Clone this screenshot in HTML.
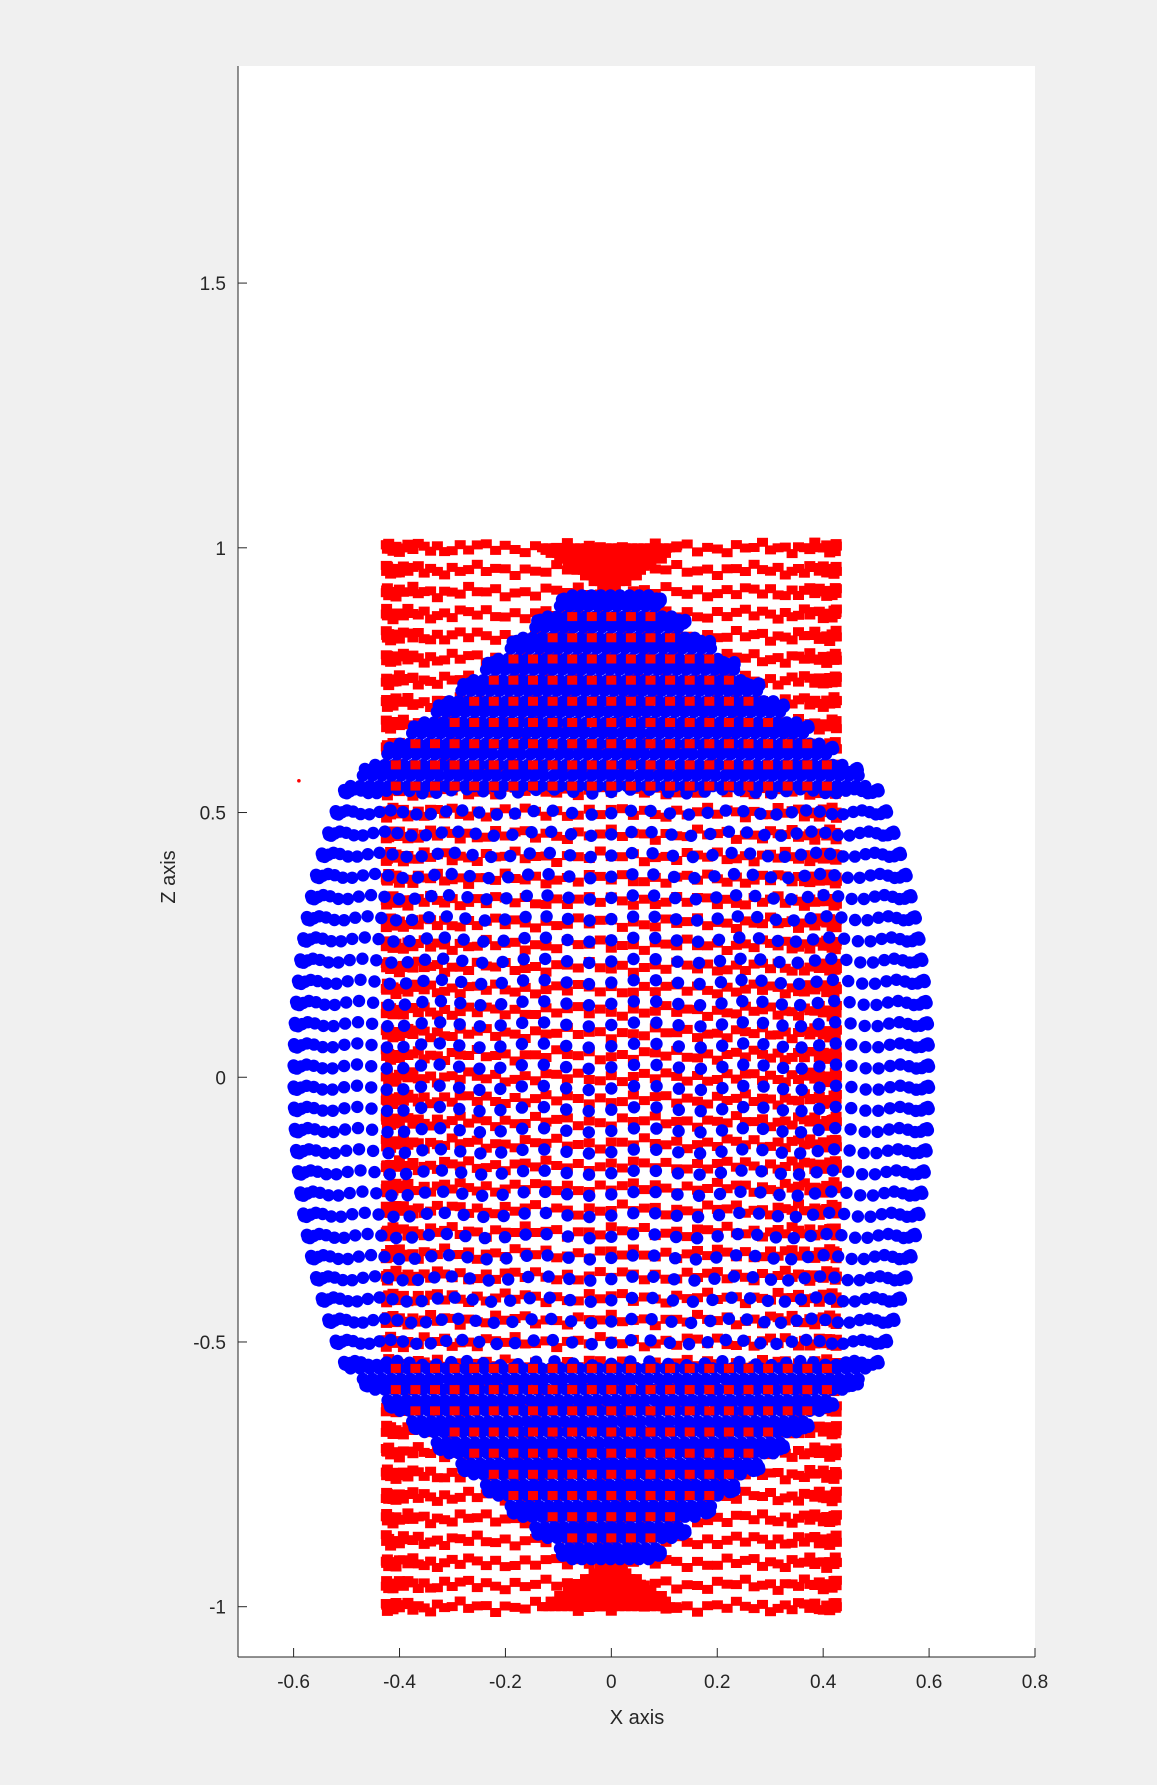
<!DOCTYPE html>
<html><head><meta charset="utf-8"><style>
html,body{margin:0;padding:0;background:#f0f0f0;}
svg{display:block;font-family:"Liberation Sans",sans-serif;}
</style></head><body>
<svg id="chart" width="1157" height="1785" viewBox="0 0 1157 1785">
<rect x="0" y="0" width="1157" height="1785" fill="#f0f0f0"/>
<rect x="238" y="66" width="797" height="1591" fill="#ffffff"/>
<g id="marks"></g>
<g id="axes"></g>
<text x="637" y="1724" font-size="20" text-anchor="middle" fill="#262626">X axis</text>
<text transform="translate(175,877) rotate(-90)" font-size="20" text-anchor="middle" fill="#262626">Z axis</text>
</svg>
<script>
const xTicks=[-0.6,-0.4,-0.2,0,0.2,0.4,0.6,0.8];
const xTickLabels=["-0.6","-0.4","-0.2","0","0.2","0.4","0.6","0.8"];
const zTicks=[-1,-0.5,0,0.5,1,1.5];
const zTickLabels=["-1","-0.5","0","0.5","1","1.5"];
const cylRadius=[0.425];
const cylHalfHeight=[1.0];
const cylRows=[49];
const cylCols=[64];
const capHalfWidth=[0.13];
const capDepth=[0.085];
const ellRadiusX=[0.6];
const ellRadiusZ=[0.93];
const ellExponent=[2.15];
const tipStartZ=[0.55];
const tipEndZ=[0.92];
const tipEndRadius=[0.07];
const ellRowStep=[0.04];
const ellCols=[44];
const gridStepX=[0.037];
const gridStepZ=[0.04];
const gridZStart=[0.55];
const strayPoint=[-0.59,0.56];

const xMin=-0.705,xMax=0.8,zMin=-1.095,zMax=1.91;
const L=238,R=1035,T=66,B=1657;
function sx(v){return L+(v-xMin)/(xMax-xMin)*(R-L);}
function sz(v){return B-(v-zMin)/(zMax-zMin)*(B-T);}
const NS="http://www.w3.org/2000/svg";
const marks=document.getElementById('marks');
const axes=document.getElementById('axes');
function sq(x,z,w,h){
  const s=document.createElementNS(NS,'rect');
  s.setAttribute('x',(sx(x)-w/2).toFixed(1));s.setAttribute('y',(sz(z)-h/2).toFixed(1));
  s.setAttribute('width',w);s.setAttribute('height',h);
  s.setAttribute('fill','#ff0000');
  
  
  marks.appendChild(s);
}
function circ(x,z){
  const c=document.createElementNS(NS,'circle');
  c.setAttribute('cx',sx(x).toFixed(1));c.setAttribute('cy',sz(z).toFixed(1));c.setAttribute('r',6.2);
  c.setAttribute('fill','#0000ff');
  
  
  marks.appendChild(c);
}
const r=cylRadius[0],h=cylHalfHeight[0];
for(let i=0;i<cylRows[0];i++){
  const z=-h+2*h*i/(cylRows[0]-1);
  for(let j=0;j<=cylCols[0];j++){
    const th=Math.PI*j/cylCols[0];
    const x=r*Math.cos(th);
    const jit=0.007*Math.sin(j*2.3+i*1.7)+0.004*Math.sin(j*0.7+i*0.3);
    sq(x,z+jit,11,9);
  }
}
[1,-1].forEach(sgn=>{
  for(let k=0;k<=8;k++){
    const f=k/8;
    const hw=capHalfWidth[0]*(1-f);
    const z=sgn*(h-capDepth[0]*f);
    for(let x=-hw;x<=hw+1e-9;x+=0.012) sq(x,z,11,9);
  }
});
const p=ellExponent[0];
function ell(z){return ellRadiusX[0]*Math.pow(Math.max(0,1-Math.pow(Math.abs(z)/ellRadiusZ[0],p)),1/p);}
function rad(z){
  const a=Math.abs(z);
  if(a<=tipStartZ[0]) return ell(a);
  const r0=ell(tipStartZ[0]);
  return r0-(r0-tipEndRadius[0])*(a-tipStartZ[0])/(tipEndZ[0]-tipStartZ[0]);
}
for(let z=-0.9;z<=0.9001;z+=ellRowStep[0]){
  const rz=rad(z);
  for(let j=0;j<=ellCols[0];j++){
    const th=Math.PI*j/ellCols[0];
    circ(rz*Math.cos(th),z+0.004*Math.sin(j*1.3));
  }
}
for(let z=0.55;z<=0.915;z+=ellRowStep[0]/2){
  const rz=rad(z)-0.008;
  [1,-1].forEach(sgn=>{
    for(let x=-rz;x<=rz+1e-9;x+=0.018) circ(x,sgn*z);
  });
}
for(let z=gridZStart[0];z<=0.9;z+=gridStepZ[0]){
  [1,-1].forEach(sgn=>{
    const zz=sgn*z;
    const rz=rad(z);
    for(let k=-12;k<=12;k++){
      const x=k*gridStepX[0];
      if(Math.abs(x)<rz-0.03 && Math.abs(x)<r) sq(x,zz,10,9);
    }
  });
}
const sp=document.createElementNS(NS,'circle');
sp.setAttribute('cx',sx(strayPoint[0]));sp.setAttribute('cy',sz(strayPoint[1]));sp.setAttribute('r',1.8);sp.setAttribute('fill','#ff0000');


marks.appendChild(sp);
function line(x1,y1,x2,y2,name){
  const l=document.createElementNS(NS,'line');
  l.setAttribute('x1',x1);l.setAttribute('y1',y1);l.setAttribute('x2',x2);l.setAttribute('y2',y2);
  l.setAttribute('stroke','#262626');l.setAttribute('stroke-width',1);
  
  
  axes.appendChild(l);
}
line(L,T,L,B,'y-axis-line');
line(L,B,R,B,'x-axis-line');
xTicks.forEach((v,i)=>{
  const x=sx(v);
  line(x,B,x,B-9,'x-tick');
  const t=document.createElementNS(NS,'text');
  t.setAttribute('x',x);t.setAttribute('y',B+31);t.setAttribute('font-size',19);
  t.setAttribute('text-anchor','middle');t.setAttribute('fill','#262626');
  
  
  t.textContent=xTickLabels[i];axes.appendChild(t);
});
zTicks.forEach((v,i)=>{
  const y=sz(v);
  line(L,y,L+9,y,'y-tick');
  const t=document.createElementNS(NS,'text');
  t.setAttribute('x',L-12);t.setAttribute('y',y+7);t.setAttribute('font-size',19);
  t.setAttribute('text-anchor','end');t.setAttribute('fill','#262626');
  
  
  t.textContent=zTickLabels[i];axes.appendChild(t);
});
</script>
</body></html>
